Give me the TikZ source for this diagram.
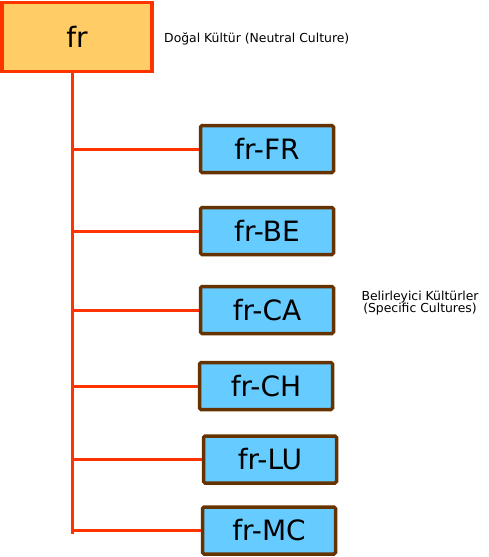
\documentclass[tikz,border=0pt]{standalone}
\usepackage{fontspec}
\setmainfont{DejaVu Sans}
\begin{document}
\begin{tikzpicture}[x=1pt,y=-1pt,
  rootbox/.style={draw=rootred,fill=rootfill,line width=3.5pt,minimum width=150pt,minimum height=69pt,inner sep=0pt,font=\fontsize{28}{30}\selectfont},
  leafbox/.style={draw=leafbrown,fill=leafblue,line width=3.5pt,rounded corners=1.5pt,minimum width=133pt,minimum height=47pt,inner sep=0pt,font=\fontsize{28}{30}\selectfont},
  link/.style={draw=linkred,line width=3pt},
  note/.style={font=\fontsize{12.4}{13}\selectfont,align=center,inner sep=0pt}]
\definecolor{rootred}{HTML}{FF3300}
\definecolor{rootfill}{HTML}{FFCC66}
\definecolor{leafbrown}{HTML}{663300}
\definecolor{leafblue}{HTML}{66CCFF}
\definecolor{linkred}{HTML}{FF3300}
\useasboundingbox (0,0) rectangle (489,557);
\node[rootbox] (fr) at (77,37) {fr};
\node[note,anchor=west] (neutral) at (164,39) {Doğal Kültür (Neutral Culture)};
\node[leafbox] (FR) at (267,149) {fr-FR};
\node[leafbox] (BE) at (267,231) {fr-BE};
\node[leafbox] (CA) at (267,310) {fr-CA};
\node[leafbox] (CH) at (266,386) {fr-CH};
\node[leafbox] (LU) at (270,459.5) {fr-LU};
\node[leafbox] (MC) at (269,530.5) {fr-MC};
\node[note] (specific) at (420,303) {Belirleyici Kültürler\\[-1.5pt](Specific Cultures)};
\coordinate (top) at (72.5,73);
\coordinate (bottom) at (72.5,534);
\draw[link] (top) -- (bottom);
\foreach \b in {FR,BE,CA,CH,LU,MC}{
  \draw[link] (top |- \b.west) -- (\b.west);
}
\end{tikzpicture}
\end{document}
